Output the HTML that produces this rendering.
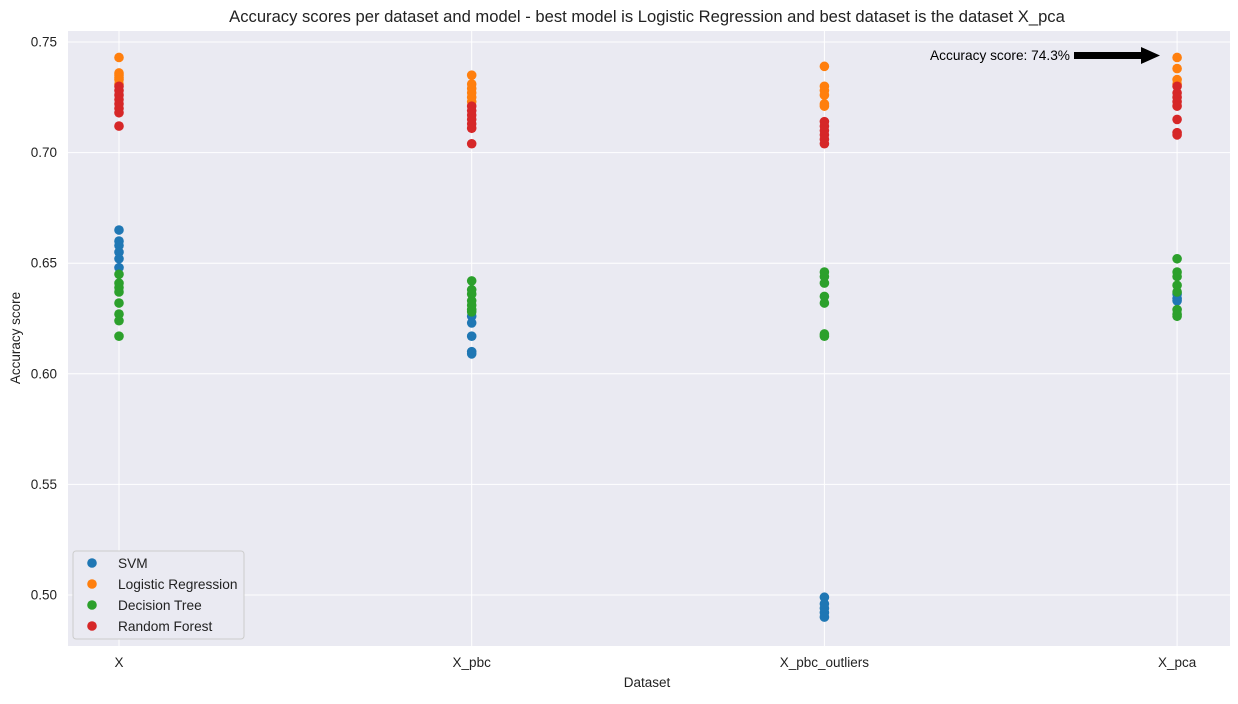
<!DOCTYPE html>
<html><head><meta charset="utf-8"><style>
body{margin:0;background:#fff;font-family:"Liberation Sans",sans-serif;}
</style></head><body>
<svg id="chart" width="1238" height="699" xmlns="http://www.w3.org/2000/svg" font-family="Liberation Sans, sans-serif">
<rect x="68" y="31" width="1162" height="615" fill="#eaeaf2"/>
<g id="grid"></g>
<g id="ticks" font-size="13.5" fill="#222"></g>
<g id="points"></g>
<text x="647" y="22" text-anchor="middle" font-size="16.6" fill="#222">Accuracy scores per dataset and model - best model is Logistic Regression and best dataset is the dataset X_pca</text>
<text x="647" y="687" text-anchor="middle" font-size="13.5" fill="#222">Dataset</text>
<text transform="translate(20,338) rotate(-90)" text-anchor="middle" font-size="13.5" fill="#222">Accuracy score</text>
<g>
<text x="930" y="60" font-size="13.7" fill="#000">Accuracy score: 74.3%</text>
<polygon points="1074,52 1141,52 1141,47 1160,55.5 1141,64 1141,59 1074,59" fill="#000"/>
</g>
<g>
<rect x="73" y="551" width="171" height="88" rx="3" fill="#eaeaf2" stroke="#ccc"/>
<g id="legend-items" font-size="13.7" fill="#222"></g>
</g>
</svg>
<script>
const datasets=["X","X_pbc","X_pbc_outliers","X_pca"];
const models=["SVM","Logistic Regression","Decision Tree","Random Forest"];
const colors=["#1f77b4","#ff7f0e","#2ca02c","#d62728"];
const yTicks=[0.50,0.55,0.60,0.65,0.70,0.75];
const svmScores=[[0.665,0.660,0.658,0.655,0.652,0.648],[0.626,0.623,0.617,0.610,0.609],[0.499,0.496,0.494,0.492,0.490],[0.636,0.634,0.633]];
const lrScores=[[0.743,0.736,0.735,0.734,0.733,0.731],[0.735,0.731,0.729,0.727,0.725,0.723],[0.739,0.730,0.728,0.726,0.722,0.721],[0.743,0.738,0.733,0.731]];
const dtScores=[[0.645,0.641,0.639,0.637,0.632,0.627,0.624,0.617],[0.642,0.638,0.636,0.633,0.631,0.629,0.628],[0.646,0.644,0.641,0.635,0.632,0.618,0.617],[0.652,0.646,0.644,0.640,0.637,0.629,0.627,0.626]];
const rfScores=[[0.730,0.728,0.726,0.724,0.722,0.720,0.718,0.712],[0.721,0.719,0.717,0.715,0.713,0.711,0.704],[0.714,0.712,0.710,0.708,0.706,0.704],[0.730,0.727,0.725,0.723,0.721,0.715,0.709,0.708]];
const series=[svmScores,lrScores,dtScores,rfScores];
const NS="http://www.w3.org/2000/svg";
const xScale=i=>119+i*352.7;
const yScale=v=>42+(0.75-v)*2212;
function mk(tag,attrs,parent){const e=document.createElementNS(NS,tag);for(const k in attrs)e.setAttribute(k,attrs[k]);parent.appendChild(e);return e;}
const grid=document.getElementById('grid'),ticks=document.getElementById('ticks');
yTicks.forEach(t=>{const y=yScale(t);
const l=mk('line',{x1:68,x2:1230,y1:y,y2:y,stroke:'#fff','stroke-width':1},grid);


const tx=mk('text',{x:57,y:y+4.5,'text-anchor':'end'},ticks);tx.textContent=t.toFixed(2);


});
datasets.forEach((d,i)=>{const x=xScale(i);
const l=mk('line',{x1:x,x2:x,y1:31,y2:646,stroke:'#fff','stroke-width':1},grid);


const tx=mk('text',{x:x,y:667,'text-anchor':'middle'},ticks);tx.textContent=d;


});
const pts=document.getElementById('points');
series.forEach((s,m)=>{s.forEach((vals,i)=>{vals.forEach(v=>{
const c=mk('circle',{cx:xScale(i),cy:yScale(v),r:4.8,fill:colors[m]},pts);


});});});
const li=document.getElementById('legend-items');
models.forEach((m,i)=>{const y=563+i*21;
const c=mk('circle',{cx:92,cy:y,r:4.8,fill:colors[i]},li);


const t=mk('text',{x:118,y:y+5},li);t.textContent=m;


});
</script>
</body></html>
